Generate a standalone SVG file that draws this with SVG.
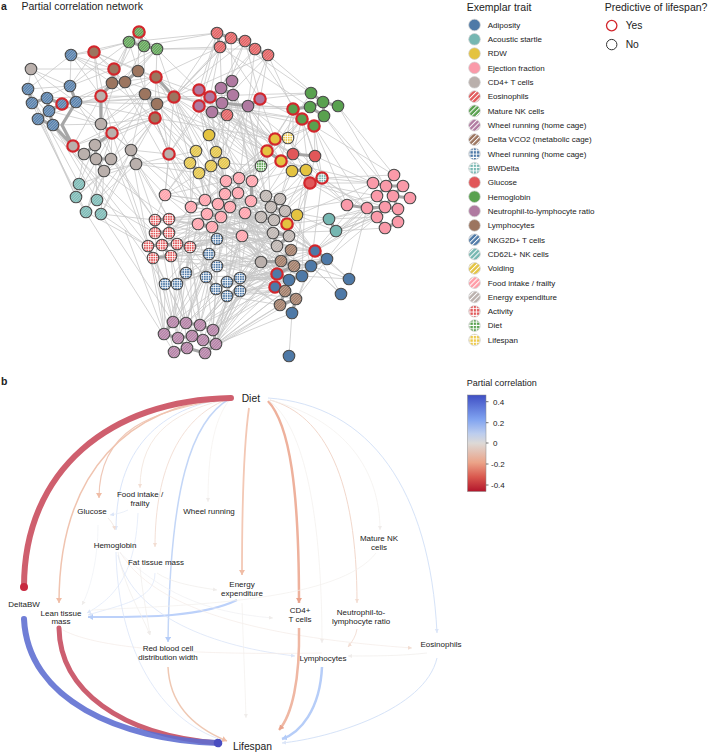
<svg xmlns="http://www.w3.org/2000/svg" width="708" height="754" viewBox="0 0 708 754">
<style>
text{font-family:"Liberation Sans",Arial,sans-serif;fill:#222}
.h{font-size:10.5px}.l{font-size:8px}.c{font-size:8px;text-anchor:middle}.big{font-size:10.3px}.bold{font-size:10.5px;font-weight:bold}
.n{stroke:#4a4a4a;stroke-width:1.1;r:5.8px}
.y{stroke:#d3262c;stroke-width:2.2;r:5.7px}
.k{stroke:#cfcfcf;stroke-width:.7;r:5.8px}
.e{fill:none;stroke:#c6c6c6;stroke-width:.75}
.t{fill:none;stroke:#a6a6a6;stroke-width:3.2;stroke-linecap:round}
.f{fill:none}
</style>
<defs>
<pattern id="eos" width="1.9" height="1.9" patternUnits="userSpaceOnUse" patternTransform="rotate(-45)"><rect width="1.9" height="1.9" fill="#e15759"/><rect width="1.9" height=".6" fill="#fff" fill-opacity=".55"/></pattern>
<pattern id="nk" width="1.9" height="1.9" patternUnits="userSpaceOnUse" patternTransform="rotate(-45)"><rect width="1.9" height="1.9" fill="#59a14f"/><rect width="1.9" height=".6" fill="#fff" fill-opacity=".55"/></pattern>
<pattern id="pur" width="1.9" height="1.9" patternUnits="userSpaceOnUse" patternTransform="rotate(-45)"><rect width="1.9" height="1.9" fill="#b07aa1"/><rect width="1.9" height=".6" fill="#fff" fill-opacity=".55"/></pattern>
<pattern id="vco" width="1.9" height="1.9" patternUnits="userSpaceOnUse" patternTransform="rotate(-45)"><rect width="1.9" height="1.9" fill="#9c755f"/><rect width="1.9" height=".6" fill="#fff" fill-opacity=".55"/></pattern>
<pattern id="nkg" width="1.9" height="1.9" patternUnits="userSpaceOnUse" patternTransform="rotate(-45)"><rect width="1.9" height="1.9" fill="#4e79a7"/><rect width="1.9" height=".6" fill="#fff" fill-opacity=".55"/></pattern>
<pattern id="cd6" width="1.9" height="1.9" patternUnits="userSpaceOnUse" patternTransform="rotate(-45)"><rect width="1.9" height="1.9" fill="#76b7b2"/><rect width="1.9" height=".6" fill="#fff" fill-opacity=".55"/></pattern>
<pattern id="voi" width="1.9" height="1.9" patternUnits="userSpaceOnUse" patternTransform="rotate(-45)"><rect width="1.9" height="1.9" fill="#e4c340"/><rect width="1.9" height=".6" fill="#fff" fill-opacity=".55"/></pattern>
<pattern id="foo" width="1.9" height="1.9" patternUnits="userSpaceOnUse" patternTransform="rotate(-45)"><rect width="1.9" height="1.9" fill="#ff9da7"/><rect width="1.9" height=".6" fill="#fff" fill-opacity=".55"/></pattern>
<pattern id="ene" width="1.9" height="1.9" patternUnits="userSpaceOnUse" patternTransform="rotate(-45)"><rect width="1.9" height="1.9" fill="#bab0ac"/><rect width="1.9" height=".6" fill="#fff" fill-opacity=".55"/></pattern>
<pattern id="whb" width="2.4" height="2.4" patternUnits="userSpaceOnUse"><rect width="2.4" height="2.4" fill="#fff"/><rect width="1.7" height="1.7" fill="#4e79a7"/></pattern>
<pattern id="bwd" width="2.4" height="2.4" patternUnits="userSpaceOnUse"><rect width="2.4" height="2.4" fill="#fff"/><rect width="1.7" height="1.7" fill="#76b7b2"/></pattern>
<pattern id="act" width="2.4" height="2.4" patternUnits="userSpaceOnUse"><rect width="2.4" height="2.4" fill="#fff"/><rect width="1.7" height="1.7" fill="#e15759"/></pattern>
<pattern id="die" width="2.4" height="2.4" patternUnits="userSpaceOnUse"><rect width="2.4" height="2.4" fill="#fff"/><rect width="1.7" height="1.7" fill="#59a14f"/></pattern>
<pattern id="lif" width="2.4" height="2.4" patternUnits="userSpaceOnUse"><rect width="2.4" height="2.4" fill="#fff"/><rect width="1.7" height="1.7" fill="#edc948"/></pattern>
<pattern id="Leos" width="3.4" height="3.4" patternUnits="userSpaceOnUse" patternTransform="rotate(-45)"><rect width="3.4" height="3.4" fill="#e15759"/><rect width="3.4" height="1" fill="#fff"/></pattern>
<pattern id="Lnk" width="3.4" height="3.4" patternUnits="userSpaceOnUse" patternTransform="rotate(-45)"><rect width="3.4" height="3.4" fill="#59a14f"/><rect width="3.4" height="1" fill="#fff"/></pattern>
<pattern id="Lpur" width="3.4" height="3.4" patternUnits="userSpaceOnUse" patternTransform="rotate(-45)"><rect width="3.4" height="3.4" fill="#b07aa1"/><rect width="3.4" height="1" fill="#fff"/></pattern>
<pattern id="Lvco" width="3.4" height="3.4" patternUnits="userSpaceOnUse" patternTransform="rotate(-45)"><rect width="3.4" height="3.4" fill="#9c755f"/><rect width="3.4" height="1" fill="#fff"/></pattern>
<pattern id="Lnkg" width="3.4" height="3.4" patternUnits="userSpaceOnUse" patternTransform="rotate(-45)"><rect width="3.4" height="3.4" fill="#4e79a7"/><rect width="3.4" height="1" fill="#fff"/></pattern>
<pattern id="Lcd6" width="3.4" height="3.4" patternUnits="userSpaceOnUse" patternTransform="rotate(-45)"><rect width="3.4" height="3.4" fill="#76b7b2"/><rect width="3.4" height="1" fill="#fff"/></pattern>
<pattern id="Lvoi" width="3.4" height="3.4" patternUnits="userSpaceOnUse" patternTransform="rotate(-45)"><rect width="3.4" height="3.4" fill="#e4c340"/><rect width="3.4" height="1" fill="#fff"/></pattern>
<pattern id="Lfoo" width="3.4" height="3.4" patternUnits="userSpaceOnUse" patternTransform="rotate(-45)"><rect width="3.4" height="3.4" fill="#ff9da7"/><rect width="3.4" height="1" fill="#fff"/></pattern>
<pattern id="Lene" width="3.4" height="3.4" patternUnits="userSpaceOnUse" patternTransform="rotate(-45)"><rect width="3.4" height="3.4" fill="#bab0ac"/><rect width="3.4" height="1" fill="#fff"/></pattern>
<pattern id="Lwhb" href="#whb" patternTransform="scale(1.4)"/>
<pattern id="Lbwd" href="#bwd" patternTransform="scale(1.4)"/>
<pattern id="Lact" href="#act" patternTransform="scale(1.4)"/>
<pattern id="Ldie" href="#die" patternTransform="scale(1.4)"/>
<pattern id="Llif" href="#lif" patternTransform="scale(1.4)"/>
<linearGradient id="cb" x1="0" y1="0" x2="0" y2="1"><stop offset="0" stop-color="#3f4fc4"/><stop offset=".25" stop-color="#7fa2f0"/><stop offset=".4" stop-color="#bccdee"/><stop offset=".5" stop-color="#ddd9d6"/><stop offset=".7" stop-color="#eba388"/><stop offset=".85" stop-color="#d9584e"/><stop offset="1" stop-color="#b2152b"/></linearGradient>
<marker id="mR" markerUnits="userSpaceOnUse" markerWidth="10" markerHeight="10" refX="4" refY="4" orient="auto"><circle cx="4" cy="4" r="4" fill="#c8283f"/></marker>
<marker id="mB" markerUnits="userSpaceOnUse" markerWidth="10" markerHeight="10" refX="4.5" refY="4.5" orient="auto"><circle cx="4.5" cy="4.5" r="4.3" fill="#4a4dc0"/></marker>
<marker id="mO" markerUnits="userSpaceOnUse" markerWidth="8" markerHeight="8" refX="5" refY="3" orient="auto"><path d="M0 0L5 3L0 6z" fill="#f0bda6"/></marker>
<marker id="mD" markerUnits="userSpaceOnUse" markerWidth="8" markerHeight="8" refX="5" refY="3" orient="auto"><path d="M0 0L5 3L0 6z" fill="#e9a38c"/></marker>
<marker id="mL" markerUnits="userSpaceOnUse" markerWidth="8" markerHeight="8" refX="5" refY="3" orient="auto"><path d="M0 0L5 3L0 6z" fill="#b4ccf8"/></marker>
<marker id="mP" markerUnits="userSpaceOnUse" markerWidth="6" markerHeight="6" refX="4" refY="2" orient="auto"><path d="M0 0L4 2L0 4z" fill="#f2ddd2"/></marker>
<marker id="mF" markerUnits="userSpaceOnUse" markerWidth="6" markerHeight="6" refX="4" refY="2" orient="auto"><path d="M0 0L4 2L0 4z" fill="#dbe5f8"/></marker>
<marker id="mG" markerUnits="userSpaceOnUse" markerWidth="6" markerHeight="6" refX="4" refY="2" orient="auto"><path d="M0 0L4 2L0 4z" fill="#efecea"/></marker>
</defs>
<rect width="708" height="754" fill="#fff"/>
<text class="bold" x="1" y="10">a</text>
<text class="h" x="21.5" y="10">Partial correlation network</text>
<g id="network-connectors">
<path class="e" d="M31 69L70 86L94 52L114 69L31 69L76 102M31 69L28 89M31 69L47 98M71 55L94 52L129 42L71 55L114 69M71 55L70 86M71 55L101 96M71 55L28 89M28 89L79 184M32 103L76 197M38 119L86 212M53 125L97 200M62 104L101 124L156 77M76 102L112 83L139 32M76 102L131 150M94 52L112 133M114 69L101 96L157 49M129 42L112 83M129 42L101 124M144 46L125 82M144 46L145 94M157 49L156 77L155 118M139 32L138 71L174 97M157 49L174 97M139 32L199 90M129 42L217 33M157 49L220 47L156 77M144 46L217 33M157 49L255 49M138 71L210 97M156 77L199 106M174 97L217 33L199 90M174 97L231 38M174 97L245 41M174 97L268 55M174 97L220 47L222 103M220 47L210 97M231 38L233 95M245 41L221 88M245 41L260 99M255 49L232 81M255 49L248 106M268 55L313 93L260 99L217 33M268 55L293 109M268 55L222 103M231 38L311 93M220 47L310 107M255 49L302 119M293 109L199 106L302 119L174 97L314 126M293 109L174 97L311 93M260 99L275 139L248 106L288 138M260 99L314 126M314 126L322 178L302 119L310 183M314 126L394 175M338 106L394 175M338 106L385 186M324 116L373 183M324 116L386 186M314 126L367 208M314 126L347 205M302 119L293 154L293 109L267 151M281 161L314 126M315 156L314 126M315 156L302 119M315 156L373 183M322 178L373 183L310 183L347 205L322 178L394 175M322 178L367 208M322 178L377 217M310 183L385 207M310 183L377 196M347 205L367 208M329 219L367 208L336 231L377 217L329 219L385 207L336 231L398 209M336 231L377 196M336 231L385 228M315 251L367 208M315 251L377 217M315 251L385 207M315 251L373 183M327 259L377 217M327 259L367 208M349 279L367 208M349 279L327 259M341 294L315 251M341 294L311 266M349 279L315 251M289 356L292 313M292 313L296 299M155 118L169 154L131 150L155 118L101 124M112 133L174 97M112 133L155 118M155 118L196 151M155 118L190 163M174 97L196 151L156 77M174 97L190 163M157 104L209 135L199 106M169 154L199 106M169 154L156 77M169 154L210 97M169 154L145 94M131 150L76 197M131 150L101 214M136 164L79 184M136 164L97 200M136 164L165 195M112 133L86 212M112 133L76 197M95 145L79 184M95 145L97 200M84 154L76 197M104 171L76 197M104 171L101 214M111 159L86 212M169 154L226 181L199 106M169 154L205 200M165 195L174 97M165 195L205 200L131 150M165 195L155 220M165 195L169 154L191 207M155 220L136 164L169 219L104 171M155 220L101 214M155 233L97 200M148 246L86 212M148 246L101 214M125 230L164 334M131 150L164 334M101 214L173 322M28 89L76 197L174 352M53 125L165 284M38 119L155 233M53 125L148 246M76 102L155 220M112 133L153 258M101 124L148 246M101 96L169 219M114 69L191 207M125 82L205 200M145 94L218 204M174 97L226 181L157 104L225 194M174 97L239 178M157 104L238 193M199 106L252 181M199 90L226 181M210 97L239 178M212 112L225 194M233 95L252 181L232 81L266 196M260 99L251 201M248 106L238 193M248 106L266 196M275 139L239 178L288 138L225 194M275 139L205 200M267 151L252 181M267 151L218 204M267 151L271 207M281 161L230 207M281 161L251 201M293 154L239 178M293 154L266 196L315 156M293 154L280 199M292 171L252 181M292 171L280 199M306 170L285 211M306 170L271 207M306 170L297 215M310 183L266 196M310 183L261 217M310 183L274 220M310 183L289 236M322 178L280 199M322 178L285 211M329 219L285 211M329 219L289 236M336 231L273 233M329 219L277 246M315 251L285 211M315 251L271 207M315 251L266 196M327 259L289 236M311 266L297 215M311 266L322 178M302 276L306 170M289 280L315 156M261 166L226 181L275 139M261 166L205 200M261 166L238 193L293 109M261 166L212 227M261 166L191 207M261 166L233 95M261 166L302 119M261 166L311 93M216 152L233 95L224 163L248 106L211 166L199 106M210 97L216 152L222 103L224 163M190 163L191 207L196 151L205 200L216 152L218 204L224 163L230 207L211 166L207 214L201 174L221 217M190 163L221 217M199 173L245 213M190 163L251 201M191 207L169 233L207 214L177 244L221 217L190 247L212 227L171 256L198 224L162 245L191 207M155 220L198 224M169 219L212 227M155 233L221 217M169 233L245 213M177 244L242 236L190 247L217 239L171 256L209 254L153 258L217 266L177 244M162 245L209 254M148 246L217 239M155 220L217 239M169 219L242 236M205 200L217 239L226 181M218 204L209 254L225 194M230 207L217 266L238 193M245 213L227 282L251 201L240 278L239 178L227 296L226 181L216 289L207 214L206 277L198 224L186 273L191 207L177 284L212 227L165 284M186 273L190 247L227 296M206 277L177 244L216 289M217 239L261 262L221 217L281 261L230 207L261 217L191 207L274 220L205 200L273 233L198 224L289 236L212 227L277 246L218 204L291 250L225 194L294 266L238 193L277 274L226 181L281 261L252 181L261 262L239 178L281 261L251 201L294 266L245 213L296 299L242 236L285 291L217 239L275 287L209 254L289 280L217 266L280 305L240 278L302 276L227 282L294 266L216 289L281 261L240 291L261 262L227 296L277 274L206 277L261 217L186 273L273 233L177 284L277 246L165 284L261 262L190 247L289 236L171 256L274 220L153 258L261 262M162 245L261 217L148 246L273 233L155 233L266 196L169 219L271 207L155 220L261 217M173 322L209 254L186 323L217 239L200 325L217 266L213 330L240 278L216 344L240 291L205 353L227 296M213 330L261 262L216 344L281 261L205 353L285 291L216 344L280 305L205 353L275 287L213 330L277 274L200 325L261 262L186 323L227 282L173 322L206 277L178 338L186 273L164 334L165 284L173 322L177 284L186 323L153 258L178 338L171 256L192 336L190 247L203 340L242 236L216 344L274 220L213 330L289 236L200 325L273 233L192 336L217 239M205 353L296 299M216 344L292 313M213 330L302 276M200 325L289 280M164 334L155 233M178 338L162 245M174 352L148 246M187 348L177 244M203 340L169 233M192 336L155 260M173 322L198 224M186 323L212 227M200 325L190 247M213 330L206 277M213 330L216 289M216 344L227 296M205 353L240 291M216 289L311 266L240 278L302 276L240 291L315 251L227 282L327 259L217 266L311 266L242 236L315 251L245 213L327 259L251 201L289 236L230 207L280 199L218 204L266 196L207 214L285 211L212 227L297 215L221 217L287 224L245 213L285 211L242 236L266 196L245 213L280 199L226 181L261 217L238 193L271 207L239 178L274 220L252 181L285 211L225 194L273 233L251 201L277 246L221 217L289 236L245 213L261 262L230 207L291 250L212 227L281 261L198 224L294 266L207 214L277 274L221 217L289 280L242 236L275 287M217 239L302 276M209 254L311 266M217 266L315 251M227 282L302 276M240 278L289 280L227 296L285 291L240 291L275 287M240 291L296 299M227 296L280 305M292 313L280 305M292 313L315 251M296 299L327 259M302 276L349 279L311 266L341 294M292 313L311 266M289 280L311 266M287 224L329 219M297 215L336 231M261 262L302 276M261 262L294 266M281 261L311 266M291 250L315 251M277 246L315 251M289 236L327 259M285 211L377 196M297 215L373 183M281 161L373 183M306 170L347 205M292 171L310 183M293 154L322 178M288 138L322 178M288 138L310 183M275 139L314 126M267 151L302 119M281 161L293 109M267 151L310 183M267 151L306 170M275 139L292 171M288 138L314 126M288 138L302 119M248 106L310 107M248 106L261 166M222 103L275 139M222 103L267 151M233 95L281 161M210 97L267 151M199 106L261 166M212 112L261 166M212 112L275 139M227 115L275 139M227 115L261 166M227 115L267 151M227 115L293 154M227 115L209 135M209 135L196 151M209 135L216 152M209 135L261 166M209 135L226 181M209 135L239 178M209 135L252 181M201 174L226 181M201 174L225 194M199 173L205 200M224 163L239 178M224 163L252 181M211 166L238 193M224 163L261 166M190 163L165 195M196 151L165 195M199 173L165 195M165 195L226 181M165 195L191 207M165 195L205 200M71 55L112 83M71 55L125 82M94 52L125 82M94 52L138 71M94 52L156 77M94 52L101 124M114 69L129 42M114 69L157 49M125 82L157 49M138 71L157 49M138 71L129 42M112 83L155 118M125 82L174 97M138 71L155 118M145 94L112 133M145 94L101 124M156 77L101 96M156 77L112 83M155 118L76 102M157 104L76 102M174 97L101 96M174 97L62 104M174 97L73 146M155 118L73 146M155 118L95 145M155 118L111 159M145 94L131 150M145 94L169 154M28 89L70 86M32 103L70 86M38 119L101 96M47 98L101 96M53 125L101 124M49 111L101 124M70 86L114 69M70 86L129 42M62 104L112 83M76 102L145 94M76 102L174 97M101 96L73 146M101 124L96 159M112 133L111 159M112 133L131 150M101 124L131 150M28 89L73 146M32 103L73 146M217 33L199 106M220 47L199 106M231 38L174 97M245 41L222 103M255 49L210 97M268 55L260 99M268 55L248 106M174 97L281 161M157 104L267 151M155 118L275 139M199 106L293 154M222 103L293 154M212 112L310 183M248 106L310 183M248 106L281 161M174 97L211 166M174 97L261 166M101 214L155 118M86 212L145 94M97 200L155 118M104 171L196 151M136 164L190 163M136 164L199 173M131 150L191 207M169 154L207 214M165 195L198 224M111 159L155 220"/>
<path class="t" d="M62 104L76 102M70 86L76 102M47 98L49 111M49 111L62 104M38 119L49 111M53 125L49 111M32 103L47 98M28 89L32 103M47 98L62 104M38 119L53 125M76 102L62 125L73 146M53 125L73 146M73 146L84 154M84 154L96 159M96 159L111 159M95 145L96 159M96 159L104 171M84 154L95 145M101 96L101 124M101 124L112 133M112 133L95 145M131 150L136 164M112 83L125 82M114 69L112 83M125 82L138 71M156 77L174 97M157 104L155 118M145 94L157 104M101 96L112 83M129 42L144 46M144 46L157 49M139 32L144 46M129 42L139 32M217 33L231 38M217 33L220 47M231 38L220 47M245 41L255 49M255 49L268 55M231 38L245 41M199 90L210 97M199 106L210 97M221 88L210 97M222 103L210 97M232 81L221 88M233 95L222 103M222 103L212 112M212 112L227 115M222 103L248 106M248 106L260 99M221 88L233 95M311 93L323 102M323 102L310 107M323 102L338 106M323 102L324 116M310 107L293 109M293 109L302 119M302 119L314 126M324 116L314 126M310 107L324 116M275 139L288 138M267 151L281 161M275 139L267 151M293 154L315 156M293 154L281 161M292 171L306 170M310 183L322 178M216 152L224 163M211 166L224 163M196 151L190 163M190 163L199 173M211 166L199 173M216 152L211 166M394 175L386 186M373 183L386 186M386 186L403 186M386 186L377 196M386 186L393 196M403 186L393 196M393 196L410 198M393 196L398 209M377 196L385 207M393 196L385 207M367 208L385 207M385 207L398 209M367 208L377 217M385 207L377 217M398 209L398 222M377 217L385 228M398 222L385 228M329 219L336 231M347 205L367 208M155 220L169 219M155 233L169 233M155 220L155 233M169 219L169 233M148 246L162 245M162 245L177 244M177 244L190 247M148 246L153 258M153 258L171 256M162 245L171 256M165 284L177 284M177 284L186 273M227 282L240 278M227 282L216 289M216 289L227 296M227 296L240 291M240 278L240 291M206 277L216 289M173 322L186 323M186 323L200 325M200 325L213 330M164 334L178 338M178 338L192 336M192 336L203 340M203 340L216 344M174 352L187 348M187 348L205 353M173 322L164 334M178 338L187 348M213 330L216 344M216 344L205 353M192 336L200 325M226 181L225 194M239 178L238 193M252 181L251 201M205 200L218 204M218 204L230 207M191 207L205 200M207 214L221 217M198 224L212 227M207 214L198 224M225 194L218 204M238 193L230 207M266 196L271 207M280 199L285 211M271 207L285 211M261 217L274 220M271 207L274 220M274 220L285 211M273 233L289 236M273 233L277 246M277 246L289 236M287 224L289 236M261 262L281 261M281 261L294 266M281 261L291 250M277 274L289 280M277 274L294 266M275 287L285 291M285 291L296 299M280 305L296 299M285 291L280 305M296 299L292 313M289 280L302 276M302 276L311 266M311 266L327 259M315 251L327 259"/>
</g>
<g id="n-adi-1"><circle class="y" cx="315" cy="251" fill="#4e79a7"/></g>
<g id="n-adi-2"><circle class="n" cx="327" cy="259" fill="#4e79a7"/></g>
<g id="n-adi-3"><circle class="n" cx="311" cy="266" fill="#4e79a7"/></g>
<g id="n-adi-4"><circle class="n" cx="302" cy="276" fill="#4e79a7"/></g>
<g id="n-adi-5"><circle class="n" cx="289" cy="280" fill="#4e79a7"/></g>
<g id="n-adi-6"><circle class="y" cx="277" cy="274" fill="#4e79a7"/></g>
<g id="n-adi-7"><circle class="y" cx="275" cy="287" fill="#4e79a7"/></g>
<g id="n-adi-8"><circle class="n" cx="292" cy="313" fill="#4e79a7"/></g>
<g id="n-adi-9"><circle class="n" cx="289" cy="356" fill="#4e79a7"/></g>
<g id="n-adi-10"><circle class="n" cx="349" cy="279" fill="#4e79a7"/></g>
<g id="n-adi-11"><circle class="n" cx="341" cy="294" fill="#4e79a7"/></g>
<g id="n-aco-1"><circle class="n" cx="329" cy="219" fill="#76b7b2"/></g>
<g id="n-aco-2"><circle class="n" cx="336" cy="231" fill="#76b7b2"/></g>
<g id="n-rdw-1"><circle class="n" cx="209" cy="135" fill="#e4c340"/></g>
<g id="n-rdw-2"><circle class="y" cx="275" cy="139" fill="#e4c340"/></g>
<g id="n-rdw-3"><circle class="y" cx="267" cy="151" fill="#e4c340"/></g>
<g id="n-rdw-4"><circle class="y" cx="281" cy="161" fill="#e4c340"/></g>
<g id="n-rdw-5"><circle class="n" cx="292" cy="171" fill="#e4c340"/></g>
<g id="n-rdw-6"><circle class="n" cx="306" cy="170" fill="#e4c340"/></g>
<g id="n-rdw-7"><circle class="n" cx="297" cy="215" fill="#e4c340"/></g>
<g id="n-rdw-8"><circle class="y" cx="287" cy="224" fill="#e4c340"/></g>
<g id="n-pnk-1"><circle class="n" cx="394" cy="175" fill="#fa9aa9"/></g>
<g id="n-pnk-2"><circle class="n" cx="373" cy="183" fill="#fa9aa9"/></g>
<g id="n-pnk-3"><circle class="n" cx="386" cy="186" fill="#fa9aa9"/></g>
<g id="n-pnk-4"><circle class="n" cx="403" cy="186" fill="#fa9aa9"/></g>
<g id="n-pnk-5"><circle class="n" cx="377" cy="196" fill="#fa9aa9"/></g>
<g id="n-pnk-6"><circle class="n" cx="393" cy="196" fill="#fa9aa9"/></g>
<g id="n-pnk-7"><circle class="n" cx="410" cy="198" fill="#fa9aa9"/></g>
<g id="n-pnk-8"><circle class="n" cx="367" cy="208" fill="#fa9aa9"/></g>
<g id="n-pnk-9"><circle class="n" cx="385" cy="207" fill="#fa9aa9"/></g>
<g id="n-pnk-10"><circle class="n" cx="398" cy="209" fill="#fa9aa9"/></g>
<g id="n-pnk-11"><circle class="n" cx="347" cy="205" fill="#fa9aa9"/></g>
<g id="n-pnk-12"><circle class="n" cx="377" cy="217" fill="#fa9aa9"/></g>
<g id="n-pnk-13"><circle class="n" cx="398" cy="222" fill="#fa9aa9"/></g>
<g id="n-pnk-14"><circle class="n" cx="385" cy="228" fill="#fa9aa9"/></g>
<g id="n-cd4-1"><circle class="n" cx="31" cy="69" fill="#bab0ac"/></g>
<g id="n-cd4-2"><circle class="y" cx="101" cy="96" fill="#bab0ac"/></g>
<g id="n-cd4-3"><circle class="n" cx="101" cy="124" fill="#bab0ac"/></g>
<g id="n-cd4-4"><circle class="y" cx="112" cy="133" fill="#bab0ac"/></g>
<g id="n-cd4-5"><circle class="y" cx="73" cy="146" fill="#bab0ac"/></g>
<g id="n-cd4-6"><circle class="n" cx="95" cy="145" fill="#bab0ac"/></g>
<g id="n-cd4-7"><circle class="n" cx="84" cy="154" fill="#bab0ac"/></g>
<g id="n-cd4-8"><circle class="n" cx="96" cy="159" fill="#bab0ac"/></g>
<g id="n-cd4-9"><circle class="n" cx="111" cy="159" fill="#bab0ac"/></g>
<g id="n-cd4-10"><circle class="n" cx="104" cy="171" fill="#bab0ac"/></g>
<g id="n-cd4-11"><circle class="n" cx="131" cy="150" fill="#bab0ac"/></g>
<g id="n-cd4-12"><circle class="n" cx="136" cy="164" fill="#bab0ac"/></g>
<g id="n-cd4-13"><circle class="y" cx="169" cy="154" fill="#bab0ac"/></g>
<g id="n-cd4-14"><circle class="n" cx="261" cy="262" fill="#bab0ac"/></g>
<g id="n-eos-1"><circle class="n" cx="217" cy="33" fill="url(#eos)"/></g>
<g id="n-eos-2"><circle class="n" cx="231" cy="38" fill="url(#eos)"/></g>
<g id="n-eos-3"><circle class="n" cx="220" cy="47" fill="url(#eos)"/></g>
<g id="n-eos-4"><circle class="n" cx="245" cy="41" fill="url(#eos)"/></g>
<g id="n-eos-5"><circle class="n" cx="255" cy="49" fill="url(#eos)"/></g>
<g id="n-eos-6"><circle class="n" cx="268" cy="55" fill="url(#eos)"/></g>
<g id="n-eos-7"><circle class="n" cx="227" cy="115" fill="url(#eos)"/></g>
<g id="n-nk-1"><circle class="y" cx="139" cy="32" fill="url(#nk)"/></g>
<g id="n-nk-2"><circle class="n" cx="129" cy="42" fill="url(#nk)"/></g>
<g id="n-nk-3"><circle class="n" cx="144" cy="46" fill="url(#nk)"/></g>
<g id="n-nk-4"><circle class="n" cx="157" cy="49" fill="url(#nk)"/></g>
<g id="n-pur-1"><circle class="n" cx="173" cy="322" fill="url(#pur)"/></g>
<g id="n-pur-2"><circle class="n" cx="186" cy="323" fill="url(#pur)"/></g>
<g id="n-pur-3"><circle class="n" cx="200" cy="325" fill="url(#pur)"/></g>
<g id="n-pur-4"><circle class="n" cx="213" cy="330" fill="url(#pur)"/></g>
<g id="n-pur-5"><circle class="n" cx="164" cy="334" fill="url(#pur)"/></g>
<g id="n-pur-6"><circle class="n" cx="178" cy="338" fill="url(#pur)"/></g>
<g id="n-pur-7"><circle class="n" cx="192" cy="336" fill="url(#pur)"/></g>
<g id="n-pur-8"><circle class="n" cx="203" cy="340" fill="url(#pur)"/></g>
<g id="n-pur-9"><circle class="n" cx="216" cy="344" fill="url(#pur)"/></g>
<g id="n-pur-10"><circle class="n" cx="174" cy="352" fill="url(#pur)"/></g>
<g id="n-pur-11"><circle class="n" cx="187" cy="348" fill="url(#pur)"/></g>
<g id="n-pur-12"><circle class="n" cx="205" cy="353" fill="url(#pur)"/></g>
<g id="n-vco-1"><circle class="n" cx="291" cy="250" fill="url(#vco)"/></g>
<g id="n-vco-2"><circle class="n" cx="281" cy="261" fill="url(#vco)"/></g>
<g id="n-vco-3"><circle class="n" cx="294" cy="266" fill="url(#vco)"/></g>
<g id="n-vco-4"><circle class="n" cx="285" cy="291" fill="url(#vco)"/></g>
<g id="n-vco-5"><circle class="n" cx="296" cy="299" fill="url(#vco)"/></g>
<g id="n-vco-6"><circle class="n" cx="280" cy="305" fill="url(#vco)"/></g>
<g id="n-whb-1"><circle class="n" cx="217" cy="239" fill="url(#whb)"/></g>
<g id="n-whb-2"><circle class="n" cx="209" cy="254" fill="url(#whb)"/></g>
<g id="n-whb-3"><circle class="n" cx="217" cy="266" fill="url(#whb)"/></g>
<g id="n-whb-4"><circle class="n" cx="186" cy="273" fill="url(#whb)"/></g>
<g id="n-whb-5"><circle class="n" cx="165" cy="284" fill="url(#whb)"/></g>
<g id="n-whb-6"><circle class="n" cx="177" cy="284" fill="url(#whb)"/></g>
<g id="n-whb-7"><circle class="n" cx="206" cy="277" fill="url(#whb)"/></g>
<g id="n-whb-8"><circle class="n" cx="227" cy="282" fill="url(#whb)"/></g>
<g id="n-whb-9"><circle class="n" cx="240" cy="278" fill="url(#whb)"/></g>
<g id="n-whb-10"><circle class="n" cx="216" cy="289" fill="url(#whb)"/></g>
<g id="n-whb-11"><circle class="n" cx="240" cy="291" fill="url(#whb)"/></g>
<g id="n-whb-12"><circle class="n" cx="227" cy="296" fill="url(#whb)"/></g>
<g id="n-bwd-1"><circle class="y" cx="322" cy="178" fill="url(#bwd)"/></g>
<g id="n-glu-1"><circle class="n" cx="293" cy="154" fill="#e15759"/></g>
<g id="n-glu-2"><circle class="n" cx="315" cy="156" fill="#e15759"/></g>
<g id="n-glu-3"><circle class="y" cx="310" cy="183" fill="#e15759"/></g>
<g id="n-hem-1"><circle class="n" cx="311" cy="93" fill="#59a14f"/></g>
<g id="n-hem-2"><circle class="n" cx="323" cy="102" fill="#59a14f"/></g>
<g id="n-hem-3"><circle class="n" cx="310" cy="107" fill="#59a14f"/></g>
<g id="n-hem-4"><circle class="n" cx="338" cy="106" fill="#59a14f"/></g>
<g id="n-hem-5"><circle class="n" cx="324" cy="116" fill="#59a14f"/></g>
<g id="n-hem-6"><circle class="y" cx="293" cy="109" fill="#59a14f"/></g>
<g id="n-hem-7"><circle class="y" cx="302" cy="119" fill="#59a14f"/></g>
<g id="n-hem-8"><circle class="y" cx="314" cy="126" fill="#59a14f"/></g>
<g id="n-neu-1"><circle class="n" cx="232" cy="81" fill="#b07aa1"/></g>
<g id="n-neu-2"><circle class="n" cx="221" cy="88" fill="#b07aa1"/></g>
<g id="n-neu-3"><circle class="n" cx="233" cy="95" fill="#b07aa1"/></g>
<g id="n-neu-5"><circle class="n" cx="222" cy="103" fill="#b07aa1"/></g>
<g id="n-neu-8"><circle class="n" cx="212" cy="112" fill="#b07aa1"/></g>
<g id="n-neu-4"><circle class="y" cx="210" cy="97" fill="#b07aa1"/></g>
<g id="n-neu-6"><circle class="y" cx="199" cy="90" fill="#b07aa1"/></g>
<g id="n-neu-7"><circle class="y" cx="199" cy="106" fill="#b07aa1"/></g>
<g id="n-neu-9"><circle class="n" cx="248" cy="106" fill="#b07aa1"/></g>
<g id="n-neu-10"><circle class="y" cx="260" cy="99" fill="#b07aa1"/></g>
<g id="n-lym-1"><circle class="y" cx="94" cy="52" fill="#9c755f"/></g>
<g id="n-lym-2"><circle class="y" cx="114" cy="69" fill="#9c755f"/></g>
<g id="n-lym-3"><circle class="n" cx="138" cy="71" fill="#9c755f"/></g>
<g id="n-lym-4"><circle class="n" cx="112" cy="83" fill="#9c755f"/></g>
<g id="n-lym-5"><circle class="n" cx="125" cy="82" fill="#9c755f"/></g>
<g id="n-lym-6"><circle class="y" cx="156" cy="77" fill="#9c755f"/></g>
<g id="n-lym-7"><circle class="n" cx="145" cy="94" fill="#9c755f"/></g>
<g id="n-lym-8"><circle class="y" cx="174" cy="97" fill="#9c755f"/></g>
<g id="n-lym-9"><circle class="n" cx="157" cy="104" fill="#9c755f"/></g>
<g id="n-lym-10"><circle class="y" cx="155" cy="118" fill="#9c755f"/></g>
<g id="n-nkg-1"><circle class="n" cx="71" cy="55" fill="url(#nkg)"/></g>
<g id="n-nkg-2"><circle class="n" cx="70" cy="86" fill="url(#nkg)"/></g>
<g id="n-nkg-3"><circle class="n" cx="28" cy="89" fill="url(#nkg)"/></g>
<g id="n-nkg-4"><circle class="n" cx="32" cy="103" fill="url(#nkg)"/></g>
<g id="n-nkg-5"><circle class="n" cx="47" cy="98" fill="url(#nkg)"/></g>
<g id="n-nkg-6"><circle class="n" cx="76" cy="102" fill="url(#nkg)"/></g>
<g id="n-nkg-7"><circle class="y" cx="62" cy="104" fill="url(#nkg)"/></g>
<g id="n-nkg-8"><circle class="n" cx="49" cy="111" fill="url(#nkg)"/></g>
<g id="n-nkg-9"><circle class="n" cx="38" cy="119" fill="url(#nkg)"/></g>
<g id="n-nkg-10"><circle class="n" cx="53" cy="125" fill="url(#nkg)"/></g>
<g id="n-cd6-1"><circle class="n" cx="79" cy="184" fill="url(#cd6)"/></g>
<g id="n-cd6-2"><circle class="n" cx="76" cy="197" fill="url(#cd6)"/></g>
<g id="n-cd6-3"><circle class="n" cx="97" cy="200" fill="url(#cd6)"/></g>
<g id="n-cd6-4"><circle class="n" cx="86" cy="212" fill="url(#cd6)"/></g>
<g id="n-cd6-5"><circle class="n" cx="101" cy="214" fill="url(#cd6)"/></g>
<g id="n-voi-1"><circle class="n" cx="196" cy="151" fill="url(#voi)"/></g>
<g id="n-voi-2"><circle class="n" cx="216" cy="152" fill="url(#voi)"/></g>
<g id="n-voi-3"><circle class="n" cx="190" cy="163" fill="url(#voi)"/></g>
<g id="n-voi-4"><circle class="n" cx="211" cy="166" fill="url(#voi)"/></g>
<g id="n-voi-5"><circle class="n" cx="224" cy="163" fill="url(#voi)"/></g>
<g id="n-voi-6"><circle class="n" cx="199" cy="173" fill="url(#voi)"/></g>
<g id="n-foo-1"><circle class="n" cx="226" cy="181" fill="url(#foo)"/></g>
<g id="n-foo-2"><circle class="n" cx="239" cy="178" fill="url(#foo)"/></g>
<g id="n-foo-3"><circle class="n" cx="252" cy="181" fill="url(#foo)"/></g>
<g id="n-foo-4"><circle class="n" cx="225" cy="194" fill="url(#foo)"/></g>
<g id="n-foo-5"><circle class="n" cx="238" cy="193" fill="url(#foo)"/></g>
<g id="n-foo-6"><circle class="n" cx="205" cy="200" fill="url(#foo)"/></g>
<g id="n-foo-7"><circle class="n" cx="218" cy="204" fill="url(#foo)"/></g>
<g id="n-foo-8"><circle class="n" cx="230" cy="207" fill="url(#foo)"/></g>
<g id="n-foo-9"><circle class="n" cx="251" cy="201" fill="url(#foo)"/></g>
<g id="n-foo-10"><circle class="n" cx="191" cy="207" fill="url(#foo)"/></g>
<g id="n-foo-11"><circle class="n" cx="207" cy="214" fill="url(#foo)"/></g>
<g id="n-foo-12"><circle class="n" cx="221" cy="217" fill="url(#foo)"/></g>
<g id="n-foo-13"><circle class="n" cx="245" cy="213" fill="url(#foo)"/></g>
<g id="n-foo-14"><circle class="n" cx="198" cy="224" fill="url(#foo)"/></g>
<g id="n-foo-15"><circle class="n" cx="212" cy="227" fill="url(#foo)"/></g>
<g id="n-foo-16"><circle class="n" cx="242" cy="236" fill="url(#foo)"/></g>
<g id="n-foo-17"><circle class="n" cx="165" cy="195" fill="url(#foo)"/></g>
<g id="n-ene-1"><circle class="n" cx="266" cy="196" fill="url(#ene)"/></g>
<g id="n-ene-2"><circle class="n" cx="280" cy="199" fill="url(#ene)"/></g>
<g id="n-ene-3"><circle class="n" cx="271" cy="207" fill="url(#ene)"/></g>
<g id="n-ene-4"><circle class="n" cx="285" cy="211" fill="url(#ene)"/></g>
<g id="n-ene-5"><circle class="n" cx="261" cy="217" fill="url(#ene)"/></g>
<g id="n-ene-6"><circle class="n" cx="274" cy="220" fill="url(#ene)"/></g>
<g id="n-ene-7"><circle class="n" cx="273" cy="233" fill="url(#ene)"/></g>
<g id="n-ene-8"><circle class="n" cx="289" cy="236" fill="url(#ene)"/></g>
<g id="n-ene-9"><circle class="n" cx="277" cy="246" fill="url(#ene)"/></g>
<g id="n-act-1"><circle class="n" cx="155" cy="220" fill="url(#act)"/></g>
<g id="n-act-2"><circle class="n" cx="169" cy="219" fill="url(#act)"/></g>
<g id="n-act-3"><circle class="n" cx="155" cy="233" fill="url(#act)"/></g>
<g id="n-act-4"><circle class="n" cx="169" cy="233" fill="url(#act)"/></g>
<g id="n-act-5"><circle class="n" cx="148" cy="246" fill="url(#act)"/></g>
<g id="n-act-6"><circle class="n" cx="162" cy="245" fill="url(#act)"/></g>
<g id="n-act-7"><circle class="n" cx="177" cy="244" fill="url(#act)"/></g>
<g id="n-act-8"><circle class="n" cx="190" cy="247" fill="url(#act)"/></g>
<g id="n-act-9"><circle class="n" cx="153" cy="258" fill="url(#act)"/></g>
<g id="n-act-10"><circle class="n" cx="171" cy="256" fill="url(#act)"/></g>
<g id="n-die-1"><circle class="n" cx="261" cy="166" fill="url(#die)"/></g>
<g id="n-lif-1"><circle class="n" cx="288" cy="138" fill="url(#lif)"/></g>
<g id="legend-trait">
<text class="h" x="466.7" y="11">Exemplar trait</text>
<circle class="k" cx="474.5" cy="25" fill="#4e79a7"/><text class="l" x="487.7" y="27.8">Adiposity</text>
<circle class="k" cx="474.5" cy="39.3" fill="#76b7b2"/><text class="l" x="487.7" y="42.1">Acoustic startle</text>
<circle class="k" cx="474.5" cy="53.6" fill="#e4c340"/><text class="l" x="487.7" y="56.4">RDW</text>
<circle class="k" cx="474.5" cy="67.9" fill="#fa9aa9"/><text class="l" x="487.7" y="70.7">Ejection fraction</text>
<circle class="k" cx="474.5" cy="82.3" fill="#bab0ac"/><text class="l" x="487.7" y="85.1">CD4+ T cells</text>
<circle class="k" cx="474.5" cy="96.6" fill="url(#Leos)"/><text class="l" x="487.7" y="99.4">Eosinophils</text>
<circle class="k" cx="474.5" cy="110.9" fill="url(#Lnk)"/><text class="l" x="487.7" y="113.7">Mature NK cells</text>
<circle class="k" cx="474.5" cy="125.2" fill="url(#Lpur)"/><text class="l" x="487.7" y="128">Wheel running (home cage)</text>
<circle class="k" cx="474.5" cy="139.6" fill="url(#Lvco)"/><text class="l" x="487.7" y="142.4">Delta VCO2 (metabolic cage)</text>
<circle class="k" cx="474.5" cy="153.9" fill="url(#Lwhb)"/><text class="l" x="487.7" y="156.7">Wheel running (home cage)</text>
<circle class="k" cx="474.5" cy="168.2" fill="url(#Lbwd)"/><text class="l" x="487.7" y="171">BWDelta</text>
<circle class="k" cx="474.5" cy="182.4" fill="#e15759"/><text class="l" x="487.7" y="185.2">Glucose</text>
<circle class="k" cx="474.5" cy="196.7" fill="#59a14f"/><text class="l" x="487.7" y="199.5">Hemoglobin</text>
<circle class="k" cx="474.5" cy="211" fill="#b07aa1"/><text class="l" x="487.7" y="213.8">Neutrophil-to-lymphocyte ratio</text>
<circle class="k" cx="474.5" cy="225.4" fill="#9c755f"/><text class="l" x="487.7" y="228.2">Lymphocytes</text>
<circle class="k" cx="474.5" cy="239.7" fill="url(#Lnkg)"/><text class="l" x="487.7" y="242.5">NKG2D+ T cells</text>
<circle class="k" cx="474.5" cy="254" fill="url(#Lcd6)"/><text class="l" x="487.7" y="256.8">CD62L+ NK cells</text>
<circle class="k" cx="474.5" cy="268.4" fill="url(#Lvoi)"/><text class="l" x="487.7" y="271.2">Voiding</text>
<circle class="k" cx="474.5" cy="282.7" fill="url(#Lfoo)"/><text class="l" x="487.7" y="285.5">Food intake / frailty</text>
<circle class="k" cx="474.5" cy="297" fill="url(#Lene)"/><text class="l" x="487.7" y="299.8">Energy expenditure</text>
<circle class="k" cx="474.5" cy="311.3" fill="url(#Lact)"/><text class="l" x="487.7" y="314.1">Activity</text>
<circle class="k" cx="474.5" cy="325.6" fill="url(#Ldie)"/><text class="l" x="487.7" y="328.4">Diet</text>
<circle class="k" cx="474.5" cy="340" fill="url(#Llif)"/><text class="l" x="487.7" y="342.8">Lifespan</text>
</g>
<g id="legend-predictive">
<text class="h" x="604.7" y="11">Predictive of lifespan?</text>
<circle cx="611.7" cy="25.6" r="5.2" fill="#fff" stroke="#d3262c" stroke-width="1.3"/><text class="big" x="625.7" y="28.8">Yes</text>
<circle cx="611.7" cy="44.6" r="5.2" fill="#fff" stroke="#333" stroke-width="1"/><text class="big" x="625.7" y="47.8">No</text>
</g>
<text class="bold" x="1" y="385">b</text>
<g id="causal-connectors" class="f">
<path d="M231 398C170 405 116 440 116 530" stroke="#d6e2f8" stroke-width=".9" marker-end="url(#mF)"/>
<path d="M231 398C180 410 140 430 140 488" stroke="#f3e6df" stroke-width=".9" marker-end="url(#mP)"/>
<path d="M231 398C180 415 155 470 155 547" stroke="#f2ddd2" stroke-width=".9" marker-end="url(#mP)"/>
<path d="M231 398C212 420 208 460 208 502" stroke="#f3f0ee" stroke-width=".7" marker-end="url(#mG)"/>
<path d="M231 398C150 410 99 430 99 498" stroke="#efc8b8" stroke-width="1.2" marker-end="url(#mO)"/>
<path d="M231 398C130 405 59 470 59 603" stroke="#f0c4b0" stroke-width="1.5" marker-end="url(#mO)"/>
<path d="M231 398C190 420 170 490 168 642" stroke="#c3d6f7" stroke-width="1.5" marker-end="url(#mL)"/>
<path d="M231 398C110 400 24 470 24 587" stroke="#cf5f6e" stroke-width="6" stroke-linecap="round" marker-end="url(#mR)"/>
<path d="M249 408C243 450 242 510 242 575" stroke="#f3c8b5" stroke-width="1.8" marker-end="url(#mO)"/>
<path d="M268 401C290 425 299 490 299 603" stroke="#eeb19c" stroke-width="2.5" marker-end="url(#mD)"/>
<path d="M268 400C305 425 322 520 322 643" stroke="#f2efed" stroke-width=".7" marker-end="url(#mG)"/>
<path d="M270 400C325 415 357 480 357 603" stroke="#f2d8cc" stroke-width="1" marker-end="url(#mP)"/>
<path d="M270 400C345 420 380 470 380 530" stroke="#f2efed" stroke-width=".7" marker-end="url(#mG)"/>
<path d="M268 398C370 405 430 490 437 633" stroke="#d6e3f8" stroke-width="1" marker-end="url(#mF)"/>
<path d="M237 600C200 618 140 617 88 617" stroke="#bcd1fa" stroke-width="2" marker-end="url(#mL)"/>
<path d="M155 573C155 600 120 605 88 615" stroke="#dfe8f9" stroke-width=".8" marker-end="url(#mF)"/>
<path d="M138 513C135 580 110 600 87 613" stroke="#e2eaf9" stroke-width=".8" marker-end="url(#mF)"/>
<path d="M98 525C98 560 90 590 82 605" stroke="#eef0f5" stroke-width=".7" marker-end="url(#mG)"/>
<path d="M108 518C112 522 114 526 115 530" stroke="#efe4de" stroke-width=".8" marker-end="url(#mP)"/>
<path d="M128 510C122 513 116 514 110 515" stroke="#e6ecf8" stroke-width=".8" marker-end="url(#mF)"/>
<path d="M118 555C130 610 200 645 295 656" stroke="#dbe5f8" stroke-width=".8" marker-end="url(#mF)"/>
<path d="M120 552C160 620 300 640 412 648" stroke="#f4ebe6" stroke-width=".7" marker-end="url(#mP)"/>
<path d="M120 553C160 590 200 612 273 618" stroke="#efeff2" stroke-width=".7" marker-end="url(#mG)"/>
<path d="M157 573C170 582 190 586 217 590" stroke="#efecea" stroke-width=".7" marker-end="url(#mG)"/>
<path d="M118 552C125 590 140 610 150 635" stroke="#efecea" stroke-width=".7" marker-end="url(#mG)"/>
<path d="M140 567C142 590 146 610 150 635" stroke="#efecea" stroke-width=".7" marker-end="url(#mG)"/>
<path d="M63 630C100 650 200 655 322 653" stroke="#f4ebe6" stroke-width=".7"/>
<path d="M376 553C340 600 200 605 92 610" stroke="#f2efed" stroke-width=".7"/>
<path d="M427 653C400 656 375 656 348 656" stroke="#efecea" stroke-width=".7" marker-end="url(#mG)"/>
<path d="M357 629C356 636 352 642 348 647" stroke="#f2ddd2" stroke-width=".9" marker-end="url(#mP)"/>
<path d="M242 603C243 640 245 680 246 718" stroke="#f2efed" stroke-width=".7" marker-end="url(#mG)"/>
<path d="M116 552C118 650 160 720 222 740" stroke="#dbe5f8" stroke-width=".8"/>
<path d="M168 667C170 710 200 730 227 741" stroke="#efc8b3" stroke-width="1.5" marker-end="url(#mO)"/>
<path d="M437 658C425 710 330 738 282 743" stroke="#d6e3f8" stroke-width="1" marker-end="url(#mF)"/>
<path d="M299 628C300 680 292 715 279 730" stroke="#efb7a3" stroke-width="2.5" marker-end="url(#mD)"/>
<path d="M322 667C320 710 300 733 282 739" stroke="#b6cdf8" stroke-width="2.5" marker-end="url(#mL)"/>
<path d="M59 628C60 690 120 735 218 743" stroke="#cc5f70" stroke-width="5" stroke-linecap="round"/>
<path d="M24 619C28 700 120 740 218 743" stroke="#5c6cd0" stroke-opacity=".88" stroke-width="6" stroke-linecap="round" marker-end="url(#mB)"/>
</g>
<g id="node-diet"><text class="big" x="241.7" y="401.7">Diet</text></g>
<g id="node-lifespan"><text class="big" x="233" y="749.7">Lifespan</text></g>
<g id="node-food"><text class="c" x="140" y="497">Food intake /</text><text class="c" x="140" y="506">frailty</text></g>
<g id="node-glucose"><text class="c" x="92" y="514">Glucose</text></g>
<g id="node-wheel"><text class="c" x="209" y="514">Wheel running</text></g>
<g id="node-hemoglobin"><text class="c" x="115" y="548">Hemoglobin</text></g>
<g id="node-fat"><text class="c" x="156" y="565">Fat tissue mass</text></g>
<g id="node-energy"><text class="c" x="242" y="587">Energy</text><text class="c" x="242" y="595.5">expenditure</text></g>
<g id="node-deltabw"><text class="c" x="24" y="607">DeltaBW</text></g>
<g id="node-lean"><text class="c" x="61" y="615.5">Lean tissue</text><text class="c" x="61" y="624">mass</text></g>
<g id="node-rbc"><text class="c" x="168" y="651">Red blood cell</text><text class="c" x="168" y="660">distribution width</text></g>
<g id="node-nk"><text class="c" x="379" y="541">Mature NK</text><text class="c" x="379" y="550">cells</text></g>
<g id="node-cd4"><text class="c" x="300" y="613">CD4+</text><text class="c" x="300" y="622">T cells</text></g>
<g id="node-neutrophil"><text class="c" x="361" y="615">Neutrophil-to-</text><text class="c" x="361" y="624">lymphocyte ratio</text></g>
<g id="node-lymphocytes"><text class="c" x="323" y="661">Lymphocytes</text></g>
<g id="node-eosinophils"><text class="c" x="441" y="647">Eosinophils</text></g>
<g id="colorbar">
<text x="466.7" y="386" font-size="9">Partial correlation</text>
<rect x="467.5" y="395" width="18.5" height="96.5" fill="url(#cb)" stroke="#888" stroke-width=".5"/>
<path d="M486 401.7h2.5M486 422.7h2.5M486 443h2.5M486 464h2.5M486 485h2.5" stroke="#333" stroke-width=".7"/>
<text class="l" x="493" y="404.5">0.4</text>
<text class="l" x="493" y="425.5">0.2</text>
<text class="l" x="493" y="446">0</text>
<text class="l" x="491" y="467">-0.2</text>
<text class="l" x="491" y="488">-0.4</text>
</g>
</svg>
